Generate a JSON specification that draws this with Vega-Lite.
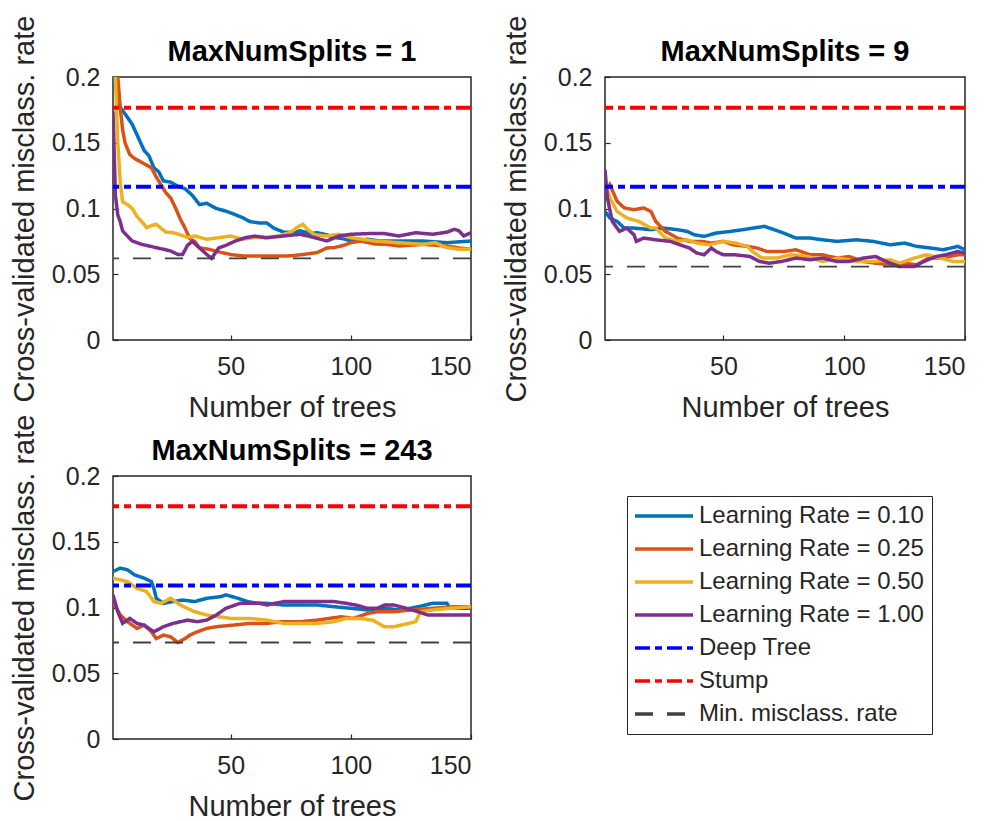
{
  "$schema": "https://vega.github.io/schema/vega-lite/v6.json",
  "background": "white",
  "padding": {"left": 9, "top": 14, "right": 5, "bottom": 5},
  "config": {
    "font": "Liberation Sans",
    "view": {"stroke": "#262626", "strokeWidth": 1.5},
    "axis": {"grid": false, "domain": false, "labelFontSize": 25, "labelColor": "#262626", "titleFontSize": 29, "titleFontWeight": "normal", "titleColor": "#262626", "tickColor": "#262626", "tickSize": -5, "tickWidth": 1.2},
    "axisX": {"labelPadding": 19, "titlePadding": 14},
    "axisY": {"labelPadding": 18, "titlePadding": 12},
    "title": {"fontSize": 29, "fontWeight": "bold", "color": "#000000", "offset": -52}
  },
  "datasets": {
    "refs": [
      {"p": 1, "k": "deep", "y": 0.1166}, {"p": 1, "k": "stump", "y": 0.1767}, {"p": 1, "k": "min", "y": 0.0621},
      {"p": 2, "k": "deep", "y": 0.1166}, {"p": 2, "k": "stump", "y": 0.1767}, {"p": 2, "k": "min", "y": 0.0558},
      {"p": 3, "k": "deep", "y": 0.1168}, {"p": 3, "k": "stump", "y": 0.177}, {"p": 3, "k": "min", "y": 0.0734}
    ],
    "curves": [
      {"p":1,"k":"a","x":1,"y":0.2},{"p":1,"k":"a","x":3,"y":0.185},{"p":1,"k":"a","x":4,"y":0.177},{"p":1,"k":"a","x":6,"y":0.172},{"p":1,"k":"a","x":9,"y":0.164},{"p":1,"k":"a","x":12,"y":0.152},{"p":1,"k":"a","x":14,"y":0.144},{"p":1,"k":"a","x":16,"y":0.14},{"p":1,"k":"a","x":18,"y":0.131},{"p":1,"k":"a","x":20,"y":0.128},{"p":1,"k":"a","x":22,"y":0.121},{"p":1,"k":"a","x":25,"y":0.12},{"p":1,"k":"a","x":28,"y":0.117},{"p":1,"k":"a","x":31,"y":0.115},{"p":1,"k":"a","x":34,"y":0.11},{"p":1,"k":"a","x":37,"y":0.103},{"p":1,"k":"a","x":40,"y":0.104},{"p":1,"k":"a","x":44,"y":0.1},{"p":1,"k":"a","x":48,"y":0.098},{"p":1,"k":"a","x":51,"y":0.096},{"p":1,"k":"a","x":55,"y":0.093},{"p":1,"k":"a","x":58,"y":0.09},{"p":1,"k":"a","x":62,"y":0.089},{"p":1,"k":"a","x":65,"y":0.089},{"p":1,"k":"a","x":68,"y":0.085},{"p":1,"k":"a","x":72,"y":0.082},{"p":1,"k":"a","x":76,"y":0.082},{"p":1,"k":"a","x":79,"y":0.083},{"p":1,"k":"a","x":83,"y":0.081},{"p":1,"k":"a","x":86,"y":0.0816},{"p":1,"k":"a","x":90,"y":0.08},{"p":1,"k":"a","x":93,"y":0.078},{"p":1,"k":"a","x":97,"y":0.077},{"p":1,"k":"a","x":100,"y":0.0753},{"p":1,"k":"a","x":104,"y":0.076},{"p":1,"k":"a","x":107,"y":0.0766},{"p":1,"k":"a","x":112,"y":0.0753},{"p":1,"k":"a","x":120,"y":0.0753},{"p":1,"k":"a","x":130,"y":0.0753},{"p":1,"k":"a","x":140,"y":0.074},{"p":1,"k":"a","x":150,"y":0.0753},
      {"p":1,"k":"b","x":1,"y":0.23},{"p":1,"k":"b","x":2,"y":0.24},{"p":1,"k":"b","x":3,"y":0.2},{"p":1,"k":"b","x":4,"y":0.177},{"p":1,"k":"b","x":5,"y":0.16},{"p":1,"k":"b","x":6,"y":0.15},{"p":1,"k":"b","x":8,"y":0.141},{"p":1,"k":"b","x":10,"y":0.138},{"p":1,"k":"b","x":12,"y":0.136},{"p":1,"k":"b","x":14,"y":0.134},{"p":1,"k":"b","x":17,"y":0.131},{"p":1,"k":"b","x":19,"y":0.124},{"p":1,"k":"b","x":21,"y":0.118},{"p":1,"k":"b","x":23,"y":0.112},{"p":1,"k":"b","x":25,"y":0.108},{"p":1,"k":"b","x":27,"y":0.1006},{"p":1,"k":"b","x":29,"y":0.092},{"p":1,"k":"b","x":31,"y":0.085},{"p":1,"k":"b","x":33,"y":0.077},{"p":1,"k":"b","x":35,"y":0.075},{"p":1,"k":"b","x":37,"y":0.07},{"p":1,"k":"b","x":41,"y":0.069},{"p":1,"k":"b","x":45,"y":0.067},{"p":1,"k":"b","x":50,"y":0.065},{"p":1,"k":"b","x":55,"y":0.0639},{"p":1,"k":"b","x":62,"y":0.0639},{"p":1,"k":"b","x":70,"y":0.0639},{"p":1,"k":"b","x":75,"y":0.064},{"p":1,"k":"b","x":80,"y":0.065},{"p":1,"k":"b","x":86,"y":0.0665},{"p":1,"k":"b","x":90,"y":0.07},{"p":1,"k":"b","x":93,"y":0.0702},{"p":1,"k":"b","x":97,"y":0.072},{"p":1,"k":"b","x":100,"y":0.074},{"p":1,"k":"b","x":104,"y":0.0753},{"p":1,"k":"b","x":110,"y":0.073},{"p":1,"k":"b","x":115,"y":0.0727},{"p":1,"k":"b","x":120,"y":0.0715},{"p":1,"k":"b","x":130,"y":0.0727},{"p":1,"k":"b","x":140,"y":0.0715},{"p":1,"k":"b","x":145,"y":0.07},{"p":1,"k":"b","x":150,"y":0.069},
      {"p":1,"k":"c","x":1,"y":0.23},{"p":1,"k":"c","x":2,"y":0.2},{"p":1,"k":"c","x":3,"y":0.15},{"p":1,"k":"c","x":4,"y":0.12},{"p":1,"k":"c","x":5,"y":0.105},{"p":1,"k":"c","x":7,"y":0.103},{"p":1,"k":"c","x":9,"y":0.1},{"p":1,"k":"c","x":11,"y":0.094},{"p":1,"k":"c","x":13,"y":0.09},{"p":1,"k":"c","x":15,"y":0.0854},{"p":1,"k":"c","x":17,"y":0.087},{"p":1,"k":"c","x":19,"y":0.088},{"p":1,"k":"c","x":21,"y":0.085},{"p":1,"k":"c","x":23,"y":0.082},{"p":1,"k":"c","x":26,"y":0.0816},{"p":1,"k":"c","x":29,"y":0.08},{"p":1,"k":"c","x":32,"y":0.078},{"p":1,"k":"c","x":35,"y":0.0791},{"p":1,"k":"c","x":40,"y":0.0766},{"p":1,"k":"c","x":45,"y":0.0778},{"p":1,"k":"c","x":50,"y":0.0791},{"p":1,"k":"c","x":55,"y":0.0766},{"p":1,"k":"c","x":60,"y":0.078},{"p":1,"k":"c","x":65,"y":0.0778},{"p":1,"k":"c","x":70,"y":0.0791},{"p":1,"k":"c","x":75,"y":0.082},{"p":1,"k":"c","x":78,"y":0.086},{"p":1,"k":"c","x":80,"y":0.088},{"p":1,"k":"c","x":82,"y":0.084},{"p":1,"k":"c","x":85,"y":0.08},{"p":1,"k":"c","x":90,"y":0.0791},{"p":1,"k":"c","x":95,"y":0.0804},{"p":1,"k":"c","x":100,"y":0.0778},{"p":1,"k":"c","x":105,"y":0.0766},{"p":1,"k":"c","x":110,"y":0.0753},{"p":1,"k":"c","x":120,"y":0.074},{"p":1,"k":"c","x":130,"y":0.0727},{"p":1,"k":"c","x":135,"y":0.074},{"p":1,"k":"c","x":140,"y":0.0702},{"p":1,"k":"c","x":145,"y":0.069},{"p":1,"k":"c","x":150,"y":0.069},
      {"p":1,"k":"d","x":1,"y":0.174},{"p":1,"k":"d","x":2,"y":0.11},{"p":1,"k":"d","x":3,"y":0.095},{"p":1,"k":"d","x":4,"y":0.09},{"p":1,"k":"d","x":5,"y":0.083},{"p":1,"k":"d","x":7,"y":0.079},{"p":1,"k":"d","x":9,"y":0.0753},{"p":1,"k":"d","x":11,"y":0.074},{"p":1,"k":"d","x":13,"y":0.0727},{"p":1,"k":"d","x":16,"y":0.0715},{"p":1,"k":"d","x":19,"y":0.0702},{"p":1,"k":"d","x":22,"y":0.069},{"p":1,"k":"d","x":25,"y":0.0677},{"p":1,"k":"d","x":28,"y":0.065},{"p":1,"k":"d","x":30,"y":0.0651},{"p":1,"k":"d","x":32,"y":0.072},{"p":1,"k":"d","x":34,"y":0.075},{"p":1,"k":"d","x":37,"y":0.07},{"p":1,"k":"d","x":40,"y":0.0651},{"p":1,"k":"d","x":42,"y":0.0621},{"p":1,"k":"d","x":45,"y":0.07},{"p":1,"k":"d","x":48,"y":0.072},{"p":1,"k":"d","x":52,"y":0.0753},{"p":1,"k":"d","x":56,"y":0.0778},{"p":1,"k":"d","x":60,"y":0.079},{"p":1,"k":"d","x":65,"y":0.0778},{"p":1,"k":"d","x":72,"y":0.0791},{"p":1,"k":"d","x":79,"y":0.0804},{"p":1,"k":"d","x":85,"y":0.0778},{"p":1,"k":"d","x":90,"y":0.0753},{"p":1,"k":"d","x":95,"y":0.0791},{"p":1,"k":"d","x":100,"y":0.0804},{"p":1,"k":"d","x":107,"y":0.0809},{"p":1,"k":"d","x":114,"y":0.0809},{"p":1,"k":"d","x":120,"y":0.0791},{"p":1,"k":"d","x":127,"y":0.0816},{"p":1,"k":"d","x":134,"y":0.0804},{"p":1,"k":"d","x":140,"y":0.082},{"p":1,"k":"d","x":143,"y":0.0842},{"p":1,"k":"d","x":145,"y":0.083},{"p":1,"k":"d","x":147,"y":0.0791},{"p":1,"k":"d","x":150,"y":0.0816},
      {"p":2,"k":"a","x":1,"y":0.0978},{"p":2,"k":"a","x":3,"y":0.0928},{"p":2,"k":"a","x":6,"y":0.0902},{"p":2,"k":"a","x":9,"y":0.0851},{"p":2,"k":"a","x":13,"y":0.0851},{"p":2,"k":"a","x":20,"y":0.0839},{"p":2,"k":"a","x":25,"y":0.0851},{"p":2,"k":"a","x":31,"y":0.0839},{"p":2,"k":"a","x":35,"y":0.0826},{"p":2,"k":"a","x":38,"y":0.08},{"p":2,"k":"a","x":42,"y":0.0788},{"p":2,"k":"a","x":47,"y":0.0813},{"p":2,"k":"a","x":53,"y":0.0826},{"p":2,"k":"a","x":58,"y":0.0839},{"p":2,"k":"a","x":64,"y":0.0856},{"p":2,"k":"a","x":67,"y":0.0864},{"p":2,"k":"a","x":71,"y":0.0839},{"p":2,"k":"a","x":75,"y":0.0813},{"p":2,"k":"a","x":80,"y":0.0775},{"p":2,"k":"a","x":86,"y":0.0775},{"p":2,"k":"a","x":91,"y":0.0762},{"p":2,"k":"a","x":97,"y":0.075},{"p":2,"k":"a","x":105,"y":0.0762},{"p":2,"k":"a","x":112,"y":0.075},{"p":2,"k":"a","x":119,"y":0.0724},{"p":2,"k":"a","x":125,"y":0.0737},{"p":2,"k":"a","x":130,"y":0.0712},{"p":2,"k":"a","x":136,"y":0.0699},{"p":2,"k":"a","x":141,"y":0.0686},{"p":2,"k":"a","x":147,"y":0.0712},{"p":2,"k":"a","x":150,"y":0.0686},
      {"p":2,"k":"b","x":1,"y":0.1131},{"p":2,"k":"b","x":3,"y":0.1182},{"p":2,"k":"b","x":6,"y":0.1055},{"p":2,"k":"b","x":9,"y":0.1004},{"p":2,"k":"b","x":13,"y":0.0991},{"p":2,"k":"b","x":17,"y":0.1004},{"p":2,"k":"b","x":20,"y":0.0978},{"p":2,"k":"b","x":22,"y":0.0902},{"p":2,"k":"b","x":26,"y":0.0826},{"p":2,"k":"b","x":31,"y":0.0775},{"p":2,"k":"b","x":36,"y":0.075},{"p":2,"k":"b","x":41,"y":0.075},{"p":2,"k":"b","x":45,"y":0.0737},{"p":2,"k":"b","x":50,"y":0.075},{"p":2,"k":"b","x":54,"y":0.0724},{"p":2,"k":"b","x":60,"y":0.0712},{"p":2,"k":"b","x":64,"y":0.0699},{"p":2,"k":"b","x":68,"y":0.0673},{"p":2,"k":"b","x":75,"y":0.0673},{"p":2,"k":"b","x":80,"y":0.0686},{"p":2,"k":"b","x":86,"y":0.0648},{"p":2,"k":"b","x":91,"y":0.0648},{"p":2,"k":"b","x":97,"y":0.0623},{"p":2,"k":"b","x":102,"y":0.0635},{"p":2,"k":"b","x":108,"y":0.0597},{"p":2,"k":"b","x":113,"y":0.0584},{"p":2,"k":"b","x":119,"y":0.0572},{"p":2,"k":"b","x":125,"y":0.0584},{"p":2,"k":"b","x":130,"y":0.0572},{"p":2,"k":"b","x":135,"y":0.0623},{"p":2,"k":"b","x":141,"y":0.0623},{"p":2,"k":"b","x":147,"y":0.0648},{"p":2,"k":"b","x":150,"y":0.0648},
      {"p":2,"k":"c","x":1,"y":0.1207},{"p":2,"k":"c","x":3,"y":0.108},{"p":2,"k":"c","x":6,"y":0.0978},{"p":2,"k":"c","x":10,"y":0.0928},{"p":2,"k":"c","x":15,"y":0.0902},{"p":2,"k":"c","x":20,"y":0.0851},{"p":2,"k":"c","x":22,"y":0.0851},{"p":2,"k":"c","x":26,"y":0.0775},{"p":2,"k":"c","x":31,"y":0.075},{"p":2,"k":"c","x":35,"y":0.0762},{"p":2,"k":"c","x":39,"y":0.0737},{"p":2,"k":"c","x":44,"y":0.0724},{"p":2,"k":"c","x":50,"y":0.075},{"p":2,"k":"c","x":55,"y":0.0737},{"p":2,"k":"c","x":60,"y":0.0712},{"p":2,"k":"c","x":62,"y":0.0673},{"p":2,"k":"c","x":66,"y":0.0623},{"p":2,"k":"c","x":72,"y":0.0623},{"p":2,"k":"c","x":78,"y":0.0648},{"p":2,"k":"c","x":85,"y":0.0635},{"p":2,"k":"c","x":91,"y":0.0597},{"p":2,"k":"c","x":98,"y":0.0623},{"p":2,"k":"c","x":105,"y":0.0597},{"p":2,"k":"c","x":112,"y":0.0597},{"p":2,"k":"c","x":119,"y":0.061},{"p":2,"k":"c","x":123,"y":0.0584},{"p":2,"k":"c","x":129,"y":0.0623},{"p":2,"k":"c","x":134,"y":0.0648},{"p":2,"k":"c","x":140,"y":0.0623},{"p":2,"k":"c","x":145,"y":0.0597},{"p":2,"k":"c","x":150,"y":0.0597},
      {"p":2,"k":"d","x":1,"y":0.1296},{"p":2,"k":"d","x":2,"y":0.108},{"p":2,"k":"d","x":4,"y":0.0902},{"p":2,"k":"d","x":7,"y":0.0826},{"p":2,"k":"d","x":10,"y":0.0851},{"p":2,"k":"d","x":13,"y":0.08},{"p":2,"k":"d","x":14,"y":0.075},{"p":2,"k":"d","x":17,"y":0.0775},{"p":2,"k":"d","x":22,"y":0.0762},{"p":2,"k":"d","x":28,"y":0.075},{"p":2,"k":"d","x":32,"y":0.0724},{"p":2,"k":"d","x":36,"y":0.0699},{"p":2,"k":"d","x":39,"y":0.0661},{"p":2,"k":"d","x":42,"y":0.0648},{"p":2,"k":"d","x":45,"y":0.0699},{"p":2,"k":"d","x":47,"y":0.0673},{"p":2,"k":"d","x":50,"y":0.0648},{"p":2,"k":"d","x":55,"y":0.0648},{"p":2,"k":"d","x":61,"y":0.0635},{"p":2,"k":"d","x":65,"y":0.0597},{"p":2,"k":"d","x":69,"y":0.0584},{"p":2,"k":"d","x":74,"y":0.0597},{"p":2,"k":"d","x":80,"y":0.0623},{"p":2,"k":"d","x":86,"y":0.061},{"p":2,"k":"d","x":91,"y":0.0623},{"p":2,"k":"d","x":97,"y":0.0597},{"p":2,"k":"d","x":102,"y":0.0597},{"p":2,"k":"d","x":108,"y":0.0623},{"p":2,"k":"d","x":113,"y":0.0635},{"p":2,"k":"d","x":119,"y":0.0584},{"p":2,"k":"d","x":123,"y":0.0558},{"p":2,"k":"d","x":129,"y":0.0559},{"p":2,"k":"d","x":133,"y":0.0597},{"p":2,"k":"d","x":138,"y":0.0635},{"p":2,"k":"d","x":142,"y":0.0648},{"p":2,"k":"d","x":147,"y":0.0673},{"p":2,"k":"d","x":150,"y":0.066},
      {"p":3,"k":"a","x":1,"y":0.1274},{"p":3,"k":"a","x":4,"y":0.1299},{"p":3,"k":"a","x":7,"y":0.1287},{"p":3,"k":"a","x":10,"y":0.1248},{"p":3,"k":"a","x":14,"y":0.1223},{"p":3,"k":"a","x":17,"y":0.1197},{"p":3,"k":"a","x":18,"y":0.1146},{"p":3,"k":"a","x":19,"y":0.107},{"p":3,"k":"a","x":22,"y":0.1032},{"p":3,"k":"a","x":26,"y":0.1045},{"p":3,"k":"a","x":30,"y":0.1057},{"p":3,"k":"a","x":35,"y":0.1045},{"p":3,"k":"a","x":40,"y":0.107},{"p":3,"k":"a","x":46,"y":0.1083},{"p":3,"k":"a","x":48,"y":0.1096},{"p":3,"k":"a","x":53,"y":0.107},{"p":3,"k":"a","x":57,"y":0.1045},{"p":3,"k":"a","x":61,"y":0.1032},{"p":3,"k":"a","x":65,"y":0.1032},{"p":3,"k":"a","x":72,"y":0.1019},{"p":3,"k":"a","x":79,"y":0.1019},{"p":3,"k":"a","x":86,"y":0.1019},{"p":3,"k":"a","x":93,"y":0.1006},{"p":3,"k":"a","x":100,"y":0.0994},{"p":3,"k":"a","x":107,"y":0.0981},{"p":3,"k":"a","x":114,"y":0.0994},{"p":3,"k":"a","x":121,"y":0.0981},{"p":3,"k":"a","x":128,"y":0.1006},{"p":3,"k":"a","x":134,"y":0.1032},{"p":3,"k":"a","x":140,"y":0.1032},{"p":3,"k":"a","x":141,"y":0.1},{"p":3,"k":"a","x":145,"y":0.0994},{"p":3,"k":"a","x":150,"y":0.0994},
      {"p":3,"k":"b","x":1,"y":0.1045},{"p":3,"k":"b","x":4,"y":0.0943},{"p":3,"k":"b","x":7,"y":0.0892},{"p":3,"k":"b","x":11,"y":0.0841},{"p":3,"k":"b","x":14,"y":0.0866},{"p":3,"k":"b","x":17,"y":0.0815},{"p":3,"k":"b","x":19,"y":0.0764},{"p":3,"k":"b","x":22,"y":0.079},{"p":3,"k":"b","x":25,"y":0.0777},{"p":3,"k":"b","x":28,"y":0.0734},{"p":3,"k":"b","x":31,"y":0.0764},{"p":3,"k":"b","x":33,"y":0.079},{"p":3,"k":"b","x":36,"y":0.0815},{"p":3,"k":"b","x":40,"y":0.0841},{"p":3,"k":"b","x":44,"y":0.0854},{"p":3,"k":"b","x":51,"y":0.0866},{"p":3,"k":"b","x":58,"y":0.0879},{"p":3,"k":"b","x":65,"y":0.0879},{"p":3,"k":"b","x":71,"y":0.0892},{"p":3,"k":"b","x":79,"y":0.0892},{"p":3,"k":"b","x":86,"y":0.0904},{"p":3,"k":"b","x":91,"y":0.0917},{"p":3,"k":"b","x":96,"y":0.093},{"p":3,"k":"b","x":101,"y":0.0917},{"p":3,"k":"b","x":107,"y":0.0955},{"p":3,"k":"b","x":111,"y":0.0968},{"p":3,"k":"b","x":118,"y":0.0968},{"p":3,"k":"b","x":125,"y":0.0981},{"p":3,"k":"b","x":134,"y":0.0994},{"p":3,"k":"b","x":143,"y":0.1006},{"p":3,"k":"b","x":150,"y":0.1006},
      {"p":3,"k":"c","x":1,"y":0.1223},{"p":3,"k":"c","x":4,"y":0.121},{"p":3,"k":"c","x":7,"y":0.1197},{"p":3,"k":"c","x":11,"y":0.1146},{"p":3,"k":"c","x":15,"y":0.1121},{"p":3,"k":"c","x":18,"y":0.1045},{"p":3,"k":"c","x":21,"y":0.1032},{"p":3,"k":"c","x":25,"y":0.107},{"p":3,"k":"c","x":29,"y":0.1019},{"p":3,"k":"c","x":35,"y":0.0968},{"p":3,"k":"c","x":40,"y":0.0943},{"p":3,"k":"c","x":45,"y":0.093},{"p":3,"k":"c","x":50,"y":0.0917},{"p":3,"k":"c","x":58,"y":0.0917},{"p":3,"k":"c","x":65,"y":0.0904},{"p":3,"k":"c","x":72,"y":0.0879},{"p":3,"k":"c","x":79,"y":0.0879},{"p":3,"k":"c","x":86,"y":0.0879},{"p":3,"k":"c","x":93,"y":0.0892},{"p":3,"k":"c","x":98,"y":0.0917},{"p":3,"k":"c","x":104,"y":0.0917},{"p":3,"k":"c","x":109,"y":0.0904},{"p":3,"k":"c","x":114,"y":0.0854},{"p":3,"k":"c","x":118,"y":0.0854},{"p":3,"k":"c","x":124,"y":0.0879},{"p":3,"k":"c","x":127,"y":0.0892},{"p":3,"k":"c","x":129,"y":0.0968},{"p":3,"k":"c","x":134,"y":0.0981},{"p":3,"k":"c","x":141,"y":0.0994},{"p":3,"k":"c","x":150,"y":0.1006},
      {"p":3,"k":"d","x":1,"y":0.1096},{"p":3,"k":"d","x":3,"y":0.0968},{"p":3,"k":"d","x":5,"y":0.0879},{"p":3,"k":"d","x":8,"y":0.0917},{"p":3,"k":"d","x":11,"y":0.0879},{"p":3,"k":"d","x":14,"y":0.0866},{"p":3,"k":"d","x":18,"y":0.0815},{"p":3,"k":"d","x":22,"y":0.0854},{"p":3,"k":"d","x":26,"y":0.0879},{"p":3,"k":"d","x":32,"y":0.0904},{"p":3,"k":"d","x":36,"y":0.0892},{"p":3,"k":"d","x":40,"y":0.0904},{"p":3,"k":"d","x":44,"y":0.0943},{"p":3,"k":"d","x":48,"y":0.0994},{"p":3,"k":"d","x":54,"y":0.1032},{"p":3,"k":"d","x":62,"y":0.1032},{"p":3,"k":"d","x":65,"y":0.1019},{"p":3,"k":"d","x":72,"y":0.1045},{"p":3,"k":"d","x":79,"y":0.1045},{"p":3,"k":"d","x":86,"y":0.1045},{"p":3,"k":"d","x":93,"y":0.1045},{"p":3,"k":"d","x":98,"y":0.1032},{"p":3,"k":"d","x":102,"y":0.1019},{"p":3,"k":"d","x":107,"y":0.0994},{"p":3,"k":"d","x":111,"y":0.0994},{"p":3,"k":"d","x":114,"y":0.1019},{"p":3,"k":"d","x":118,"y":0.1019},{"p":3,"k":"d","x":123,"y":0.0994},{"p":3,"k":"d","x":128,"y":0.0968},{"p":3,"k":"d","x":132,"y":0.0943},{"p":3,"k":"d","x":141,"y":0.0943},{"p":3,"k":"d","x":150,"y":0.0943}
    ]
  },
  "columns": 2,
  "spacing": {"row": 136, "column": 134},
  "bounds": "flush",
  "concat": [
    {
      "width": 358, "height": 263,
      "title": "MaxNumSplits = 1",
      "layer": [
        {
          "data": {"name": "curves"},
          "transform": [{"filter": "datum.p == 1"}],
          "mark": {"type": "line", "clip": true, "strokeWidth": 3.5},
          "encoding": {
            "x": {"field": "x", "type": "quantitative", "scale": {"domain": [1, 150], "nice": false}, "axis": {"values": [50, 100, 150], "title": "Number of trees"}},
            "y": {"field": "y", "type": "quantitative", "scale": {"domain": [0, 0.2], "nice": false}, "axis": {"values": [0, 0.05, 0.1, 0.15, 0.2], "format": "~g", "title": "Cross-validated misclass. rate"}},
            "color": {"field": "k", "type": "nominal", "scale": {"domain": ["a","b","c","d","deep","stump","min"], "range": ["#0072BD","#D95319","#EDB120","#7E2F8E","#0000FF","#FF0000","#404040"]},
              "legend": {"title": null, "orient": "none", "legendX": 514, "legendY": 419, "strokeColor": "#262626", "fillColor": "white", "padding": 8, "symbolType": "M-2.9,0H2.9", "symbolSize": 400, "symbolOffset": 17, "labelOffset": 23, "symbolStrokeWidth": 3.5, "labelFontSize": 24, "labelColor": "#262626", "rowPadding": 9, "labelLimit": 400,
                "labelExpr": "datum.value == 'a' ? 'Learning Rate = 0.10' : datum.value == 'b' ? 'Learning Rate = 0.25' : datum.value == 'c' ? 'Learning Rate = 0.50' : datum.value == 'd' ? 'Learning Rate = 1.00' : datum.value == 'deep' ? 'Deep Tree' : datum.value == 'stump' ? 'Stump' : 'Min. misclass. rate'",
                "encoding": {"symbols": {"update": {"strokeWidth": {"signal": "datum.value == 'min' ? 1.8 : 3.5"}}}}}},
            "strokeDash": {"field": "k", "type": "nominal", "scale": {"domain": ["a","b","c","d","deep","stump","min"], "range": [[1,0],[1,0],[1,0],[1,0],[15,5,7,5],[15,5,7,5],[18,14]]}, "legend": null}
          }
        },
        {
          "data": {"name": "refs"},
          "transform": [{"filter": "datum.p == 1 && datum.k != 'min'"}],
          "mark": {"type": "rule", "strokeWidth": 4},
          "encoding": {
            "y": {"field": "y", "type": "quantitative"},
            "color": {"field": "k", "type": "nominal"},
            "strokeDash": {"field": "k", "type": "nominal", "legend": null}
          }
        },
        {
          "data": {"name": "refs"},
          "transform": [{"filter": "datum.p == 1 && datum.k == 'min'"}],
          "mark": {"type": "rule", "strokeWidth": 1.8},
          "encoding": {
            "y": {"field": "y", "type": "quantitative"},
            "color": {"field": "k", "type": "nominal"},
            "strokeDash": {"field": "k", "type": "nominal", "legend": null}
          }
        }
      ]
    },
    {
      "width": 360, "height": 263,
      "title": "MaxNumSplits = 9",
      "layer": [
        {
          "data": {"name": "curves"},
          "transform": [{"filter": "datum.p == 2"}],
          "mark": {"type": "line", "clip": true, "strokeWidth": 3.5},
          "encoding": {
            "x": {"field": "x", "type": "quantitative", "scale": {"domain": [1, 150], "nice": false}, "axis": {"values": [50, 100, 150], "title": "Number of trees"}},
            "y": {"field": "y", "type": "quantitative", "scale": {"domain": [0, 0.2], "nice": false}, "axis": {"values": [0, 0.05, 0.1, 0.15, 0.2], "format": "~g", "title": "Cross-validated misclass. rate"}},
            "color": {"field": "k", "type": "nominal"},
            "strokeDash": {"field": "k", "type": "nominal", "legend": null}
          }
        },
        {
          "data": {"name": "refs"},
          "transform": [{"filter": "datum.p == 2 && datum.k != 'min'"}],
          "mark": {"type": "rule", "strokeWidth": 4},
          "encoding": {
            "y": {"field": "y", "type": "quantitative"},
            "color": {"field": "k", "type": "nominal"},
            "strokeDash": {"field": "k", "type": "nominal", "legend": null}
          }
        },
        {
          "data": {"name": "refs"},
          "transform": [{"filter": "datum.p == 2 && datum.k == 'min'"}],
          "mark": {"type": "rule", "strokeWidth": 1.8},
          "encoding": {
            "y": {"field": "y", "type": "quantitative"},
            "color": {"field": "k", "type": "nominal"},
            "strokeDash": {"field": "k", "type": "nominal", "legend": null}
          }
        }
      ]
    },
    {
      "width": 358, "height": 263,
      "title": "MaxNumSplits = 243",
      "layer": [
        {
          "data": {"name": "curves"},
          "transform": [{"filter": "datum.p == 3"}],
          "mark": {"type": "line", "clip": true, "strokeWidth": 3.5},
          "encoding": {
            "x": {"field": "x", "type": "quantitative", "scale": {"domain": [1, 150], "nice": false}, "axis": {"values": [50, 100, 150], "title": "Number of trees"}},
            "y": {"field": "y", "type": "quantitative", "scale": {"domain": [0, 0.2], "nice": false}, "axis": {"values": [0, 0.05, 0.1, 0.15, 0.2], "format": "~g", "title": "Cross-validated misclass. rate"}},
            "color": {"field": "k", "type": "nominal"},
            "strokeDash": {"field": "k", "type": "nominal", "legend": null}
          }
        },
        {
          "data": {"name": "refs"},
          "transform": [{"filter": "datum.p == 3 && datum.k != 'min'"}],
          "mark": {"type": "rule", "strokeWidth": 4},
          "encoding": {
            "y": {"field": "y", "type": "quantitative"},
            "color": {"field": "k", "type": "nominal"},
            "strokeDash": {"field": "k", "type": "nominal", "legend": null}
          }
        },
        {
          "data": {"name": "refs"},
          "transform": [{"filter": "datum.p == 3 && datum.k == 'min'"}],
          "mark": {"type": "rule", "strokeWidth": 1.8},
          "encoding": {
            "y": {"field": "y", "type": "quantitative"},
            "color": {"field": "k", "type": "nominal"},
            "strokeDash": {"field": "k", "type": "nominal", "legend": null}
          }
        }
      ]
    }
  ]
}
